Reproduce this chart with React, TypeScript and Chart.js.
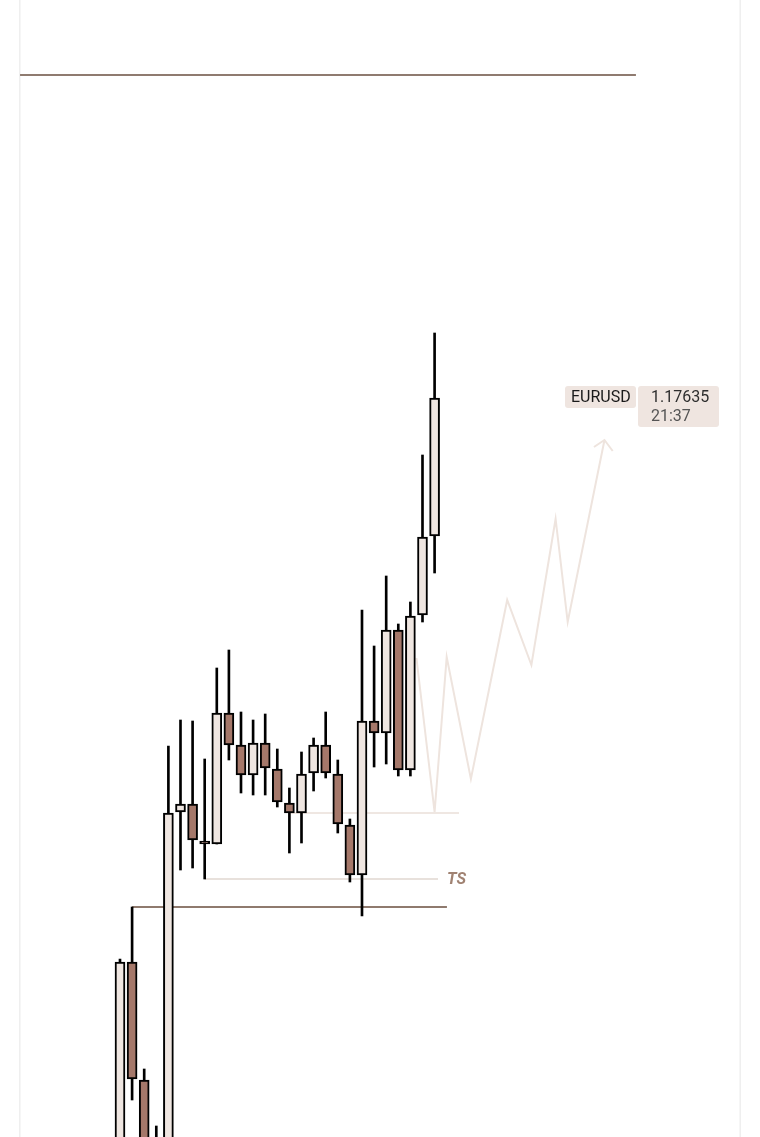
import React, { useEffect, useRef } from "react";
import { Chart, registerables } from "chart.js";

Chart.register(...registerables);

// ---- data ----
const SYMBOL = "EURUSD";
const LAST_PRICE = "1.17635";
const LAST_TIME = "21:37";
const LAST_PRICE_VALUE = 1.17635;

const OPEN = [1.16833, 1.17071, 1.16953, 1.16853, 1.16803, 1.17221, 1.17229, 1.17192, 1.17189, 1.1732, 1.17288, 1.17258, 1.1729, 1.17264, 1.1723, 1.1722, 1.1726, 1.17288, 1.17259, 1.17208, 1.17158, 1.17312, 1.173, 1.17403, 1.17263, 1.17418, 1.17497];
const HIGH = [1.17074, 1.17126, 1.16964, 1.16907, 1.17287, 1.17313, 1.17312, 1.17274, 1.17365, 1.17383, 1.17321, 1.17313, 1.17319, 1.17284, 1.17245, 1.17281, 1.17295, 1.17321, 1.17273, 1.17214, 1.17423, 1.17387, 1.17457, 1.17409, 1.17431, 1.17578, 1.177];
const LOW = [1.16818, 1.16933, 1.16838, 1.16793, 1.16795, 1.17163, 1.17165, 1.17154, 1.17189, 1.17273, 1.1724, 1.17238, 1.17238, 1.17226, 1.1718, 1.1719, 1.17242, 1.17255, 1.172, 1.17151, 1.17117, 1.17266, 1.17269, 1.17257, 1.17257, 1.17411, 1.1746];
const CLOSE = [1.17071, 1.16954, 1.16853, 1.16803, 1.1722, 1.17229, 1.17193, 1.17189, 1.1732, 1.17288, 1.17258, 1.1729, 1.17265, 1.17231, 1.1722, 1.17259, 1.17288, 1.1726, 1.17209, 1.17158, 1.17312, 1.173, 1.17403, 1.17263, 1.17417, 1.17496, 1.17635];

// projected zig-zag path (bar index, price)
const PROJ_X = [24.5, 26, 27, 29, 32, 34, 36, 37, 40.04];
const PROJ_Y = [1.17375, 1.17221, 1.17376, 1.17254, 1.17433, 1.17368, 1.17514, 1.17411, 1.17593];
// arrow head (left arm, tip, right arm)
const ARROW_X = [39.17, 40.04, 40.72];
const ARROW_Y = [1.17586, 1.17593, 1.17582];

// horizontal levels: price, from index, to index
const TOP_LEVEL = { price: 1.17958, from: -8.26, to: 42.64 };
const HIGH_LEVEL = { price: 1.17126, from: 1, to: 27.02 };
const TS_LEVEL = { price: 1.17154, from: 7, to: 26.28 };
const MID_LEVEL = { price: 1.1722, from: 14, to: 28.02 };

const TS_LABEL = "TS";

const Y_MIN = 1.16896;
const Y_MAX = 1.18033;
const X_MIN = -9.917;
const X_MAX = 52.893;

const BULL = "#efe6e1";
const BEAR = "#a5786a";

function levelData(l: { price: number; from: number; to: number }) {
  return [
    { x: l.from, y: l.price },
    { x: l.to, y: l.price },
  ];
}

export default function App() {
  const ref = useRef<HTMLCanvasElement | null>(null);

  useEffect(() => {
    if (!ref.current) return;
    Chart.defaults.font.family = "Roboto";
    const bodies = OPEN.map((o, i) => ({ x: i, y: [o, CLOSE[i]] }));
    const wicks = OPEN.map((_, i) => ({ x: i, y: [LOW[i], HIGH[i]] }));
    const colors = OPEN.map((o, i) => (CLOSE[i] >= o ? BULL : BEAR));

    const overlay = {
      id: "overlay",
      beforeDatasetsDraw(chart: any) {
        const ctx = chart.ctx;
        ctx.save();
        ctx.strokeStyle = "#efefef";
        ctx.lineWidth = 1.5;
        ctx.beginPath();
        ctx.moveTo(19.8, 0);
        ctx.lineTo(19.8, chart.height);
        ctx.moveTo(740.2, 0);
        ctx.lineTo(740.2, chart.height);
        ctx.stroke();
        ctx.restore();
      },
      afterDatasetsDraw(chart: any) {
        const ctx = chart.ctx;
        const xs = chart.scales.x;
        const ys = chart.scales.y;
        ctx.save();
        // TS label
        const tsY = ys.getPixelForValue(TS_LEVEL.price);
        const tsX = xs.getPixelForValue(TS_LEVEL.to) + 9;
        ctx.font = "italic bold 16px Roboto";
        ctx.fillStyle = "#a08272";
        ctx.textBaseline = "middle";
        ctx.textAlign = "left";
        ctx.fillText(TS_LABEL, tsX, tsY + 1);

        // symbol / price labels
        const py = ys.getPixelForValue(LAST_PRICE_VALUE);
        const rr = (x: number, y: number, w: number, h: number, r: number) => {
          ctx.beginPath();
          ctx.moveTo(x + r, y);
          ctx.lineTo(x + w - r, y);
          ctx.quadraticCurveTo(x + w, y, x + w, y + r);
          ctx.lineTo(x + w, y + h - r);
          ctx.quadraticCurveTo(x + w, y + h, x + w - r, y + h);
          ctx.lineTo(x + r, y + h);
          ctx.quadraticCurveTo(x, y + h, x, y + h - r);
          ctx.lineTo(x, y + r);
          ctx.quadraticCurveTo(x, y, x + r, y);
          ctx.closePath();
          ctx.fill();
        };
        ctx.fillStyle = "#efe5e0";
        rr(565, py - 12, 71, 22, 3);
        rr(638, py - 12, 81, 41, 3);
        ctx.textBaseline = "alphabetic";
        ctx.font = "16px Roboto";
        ctx.fillStyle = "#1a1a1a";
        ctx.fillText(SYMBOL, 571, py + 4);
        ctx.fillStyle = "#2e2e2e";
        ctx.fillText(LAST_PRICE, 651, py + 4);
        ctx.fillStyle = "#555555";
        ctx.fillText(LAST_TIME, 651, py + 23);
        ctx.restore();
      },
    };

    const lineDs = (data: any[], color: string, width: number) => ({
      type: "line" as const,
      data,
      borderColor: color,
      borderWidth: width,
      pointRadius: 0,
      tension: 0,
      fill: false,
      order: 2,
    });

    const chart = new Chart(ref.current, {
      type: "bar",
      data: {
        datasets: [
          {
            type: "bar",
            data: bodies as any,
            backgroundColor: colors,
            borderColor: "#000000",
            borderWidth: 2,
            borderSkipped: false,
            barThickness: 10,
            grouped: false,
            order: 0,
          } as any,
          {
            type: "bar",
            data: wicks as any,
            backgroundColor: "#000000",
            borderWidth: 0,
            barThickness: 2,
            grouped: false,
            order: 1,
          } as any,
          lineDs(levelData(TOP_LEVEL), "#8f7b70", 2),
          lineDs(levelData(HIGH_LEVEL), "#8f7a6e", 2),
          lineDs(levelData(TS_LEVEL), "#e8e1dc", 2),
          lineDs(levelData(MID_LEVEL), "#efe7e2", 2),
          lineDs(PROJ_X.map((x, i) => ({ x, y: PROJ_Y[i] })), "#eee4de", 2),
          lineDs(ARROW_X.map((x, i) => ({ x, y: ARROW_Y[i] })), "#eee4de", 2),
        ] as any,
      },
      options: {
        animation: false,
        responsive: false,
        maintainAspectRatio: false,
        devicePixelRatio: 1,
        layout: { padding: 0 },
        plugins: {
          legend: { display: false },
          tooltip: { enabled: false },
        },
        scales: {
          x: {
            type: "linear",
            min: X_MIN,
            max: X_MAX,
            display: false,
            offset: false,
          },
          y: {
            type: "linear",
            min: Y_MIN,
            max: Y_MAX,
            display: false,
          },
        },
      } as any,
      plugins: [overlay],
    });
    return () => chart.destroy();
  }, []);

  return (
    <div style={{ position: "fixed", left: 0, top: 0, width: 760, height: 1137, background: "#ffffff" }}>
      <canvas ref={ref} width={760} height={1137} style={{ display: "block", width: 760, height: 1137 }} />
    </div>
  );
}
